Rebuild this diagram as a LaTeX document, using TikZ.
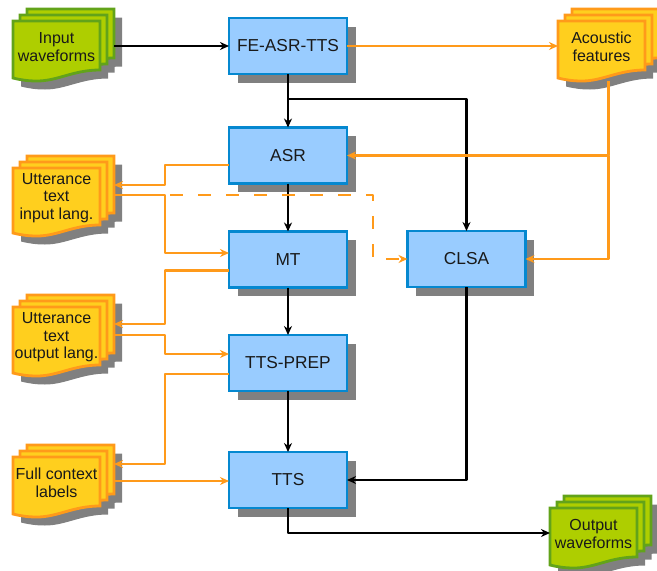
\documentclass[tikz,border=0pt]{standalone}
\usepackage{fontspec}
\setmainfont{Liberation Sans}
\usetikzlibrary{arrows.meta}
\definecolor{boxfill}{HTML}{99CCFF}
\definecolor{boxline}{HTML}{0588D0}
\definecolor{shadowgray}{HTML}{808080}
\definecolor{docyellow}{HTML}{FFCF1E}
\definecolor{docorange}{HTML}{FF9A1A}
\definecolor{docgreen}{HTML}{AECE00}
\definecolor{docgreenline}{HTML}{62A31A}
\definecolor{linkorange}{HTML}{FF9A1A}
\tikzset{
  x=1pt,y=-1pt,
  procbox/.style={draw=boxline,fill=boxfill,line width=2.8pt,minimum width=118pt,minimum height=56pt,inner sep=0pt,outer sep=0pt,font=\fontsize{17.3}{20}\selectfont,text=black!90},
  boxshadow/.style={fill=shadowgray,draw=none},
  sheetyellow/.style={draw=docorange,fill=docyellow,line width=2.8pt,line join=miter},
  sheetgreen/.style={draw=docgreenline,fill=docgreen,line width=2.8pt,line join=miter},
  doctext/.style={align=center,inner sep=0pt,font=\fontsize{16}{17.6}\selectfont,text=black!90},
  ghost/.style={inner sep=0pt,outer sep=0pt,minimum width=101pt},
  blackflow/.style={draw=black,line width=2.6pt,line join=round,-{Stealth[length=9pt,width=8pt]}},
  orangeflow/.style={draw=linkorange,line width=2.4pt,line join=round,-{Stealth[length=9pt,width=8pt]}},
  orangedash/.style={orangeflow,dash pattern=on 13pt off 15pt},
}
% one sheet of a document, local coordinates, width 87, height #1
\newcommand{\sheetpath}[1]{(0,0) -- (87,0) -- (87,#1-11) .. controls (60,#1-11) and (45,#1) .. (24,#1) .. controls (15,#1) and (8,#1-1) .. (0,#1-3) -- cycle}
% name, x, top, height, sheet style, text
\newcommand{\docstack}[6]{%
  \begin{scope}[shift={(#2,#3)}]
    \fill[shadowgray,shift={(8,8.5)}] \sheetpath{#4};
    \fill[shadowgray,shift={(14.5,2.5)}] \sheetpath{#4};
    \fill[shadowgray,shift={(22,-3.5)}] \sheetpath{#4};
    \path[#5,shift={(14,-12)}] \sheetpath{#4};
    \path[#5,shift={(7,-6)}] \sheetpath{#4};
    \path[#5] \sheetpath{#4};
    \node[doctext] (#1-text) at (43.5,#4/2-4) {#6};
    \node[ghost,minimum height=#4pt+12pt] (#1) at (50.5,#4/2-6) {};
  \end{scope}}
% name, centre x, centre y, text
\newcommand{\procnode}[4]{%
  \fill[boxshadow] (#2-50.5,#3-19.5) rectangle (#2+67.5,#3+36.5);
  \node[procbox] (#1) at (#2,#3) {#4};}
\begin{document}
\begin{tikzpicture}
\useasboundingbox (0,0) rectangle (657,571);
\docstack{inwave}{13}{21}{60}{sheetgreen}{Input\\waveforms}
\docstack{acoustic}{558}{21}{60}{sheetyellow}{Acoustic\\features}
\docstack{uttin}{13}{168}{68}{sheetyellow}{Utterance\\text\\input lang.}
\docstack{uttout}{13}{307}{69}{sheetyellow}{Utterance\\text\\output lang.}
\docstack{labels}{13}{457}{60}{sheetyellow}{Full context\\labels}
\docstack{outwave}{550}{508}{60}{sheetgreen}{Output\\waveforms}

\procnode{fe}{288}{46}{FE-ASR-TTS}
\procnode{asr}{288}{155.5}{ASR}
\procnode{mt}{288}{259.5}{MT}
\procnode{prep}{288}{363}{TTS-PREP}
\procnode{tts}{288}{480}{TTS}
\procnode{clsa}{466.5}{259}{CLSA}

\coordinate (bus) at (165,0);
\coordinate (branch) at (288,99);
\coordinate (dashx) at (373,195);

% black flow
\draw[blackflow] ([yshift=-1pt]inwave.east) -- (fe.west);
\draw[blackflow] (fe.south) -- (asr.north);
\draw[blackflow] (branch) -- (branch-|clsa.north) -- (clsa.north);
\draw[blackflow] (asr.south) -- (mt.north);
\draw[blackflow] (mt.south) -- (prep.north);
\draw[blackflow] (prep.south) -- (tts.north);
\draw[blackflow] (clsa.south) |- (tts.east);
\coordinate (wavein) at ([yshift=-1pt]outwave.west);
\draw[blackflow] (tts.south) |- (wavein);

% orange flow
\draw[orangeflow] (fe.east) -- (acoustic.west|-fe.east);
\draw[orangeflow] (acoustic.south) -- (acoustic.south|-asr.east) -- (asr.east);
\draw[orangeflow] (acoustic.south|-asr.east) |- (clsa.east);

\coordinate (asrout) at ([yshift=-9.5pt]asr.west);
\coordinate (uttinA) at ([yshift=11pt]uttin.east);
\draw[orangeflow] (asrout) -- (asrout-|bus) -- (bus|-uttinA) -- (uttinA);

\coordinate (uttinB) at ([yshift=1pt]uttin.east);
\coordinate (mtin) at ([yshift=6.5pt]mt.west);
\draw[orangeflow] (uttinB) -- (uttinB-|bus) -- (bus|-mtin) -- (mtin);
\draw[orangedash] (uttinB) -- (uttinB-|dashx) -- (dashx|-clsa.west) -- (clsa.west);

\coordinate (mtout) at ([yshift=-11pt]mt.west);
\coordinate (uttoutA) at ([yshift=11.5pt]uttout.east);
\draw[orangeflow] (mtout) -- (mtout-|bus) -- (bus|-uttoutA) -- (uttoutA);

\coordinate (uttoutB) at ([yshift=.5pt]uttout.east);
\coordinate (prepin) at ([yshift=9pt]prep.west);
\draw[orangeflow] (uttoutB) -- (uttoutB-|bus) -- (bus|-prepin) -- (prepin);

\coordinate (prepout) at ([yshift=-11pt]prep.west);
\coordinate (labelsA) at ([yshift=17pt]labels.east);
\draw[orangeflow] (prepout) -- (prepout-|bus) -- (bus|-labelsA) -- (labelsA);

\draw[orangeflow] (labels.east) -- (labels.east-|tts.west);
\end{tikzpicture}
\end{document}
